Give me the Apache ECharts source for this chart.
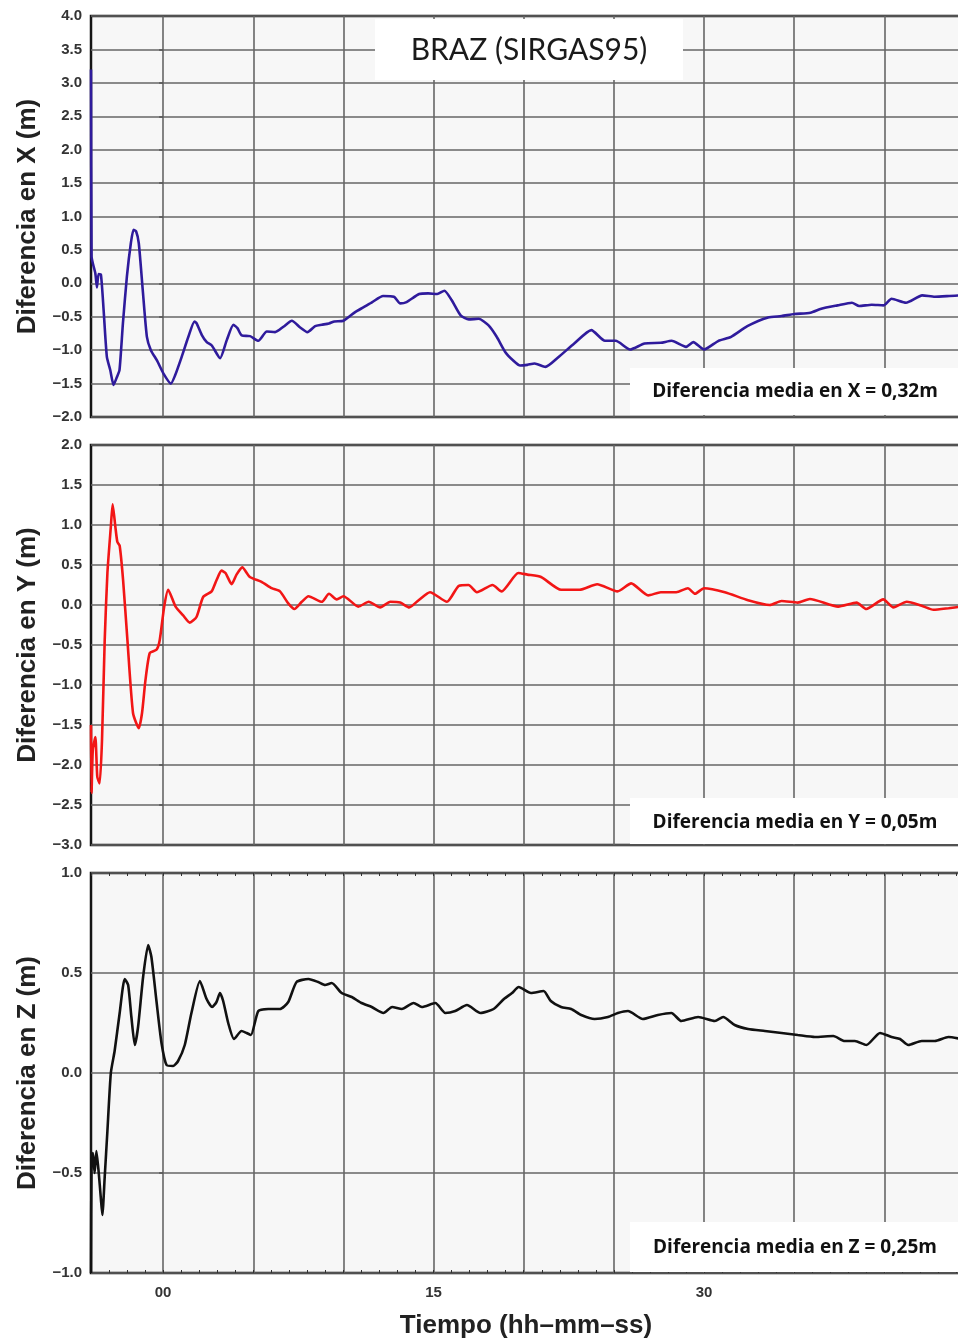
<!DOCTYPE html>
<html>
<head>
<meta charset="utf-8">
<script src="https://cdn.jsdelivr.net/npm/echarts@6/dist/echarts.min.js"></script>
<style>
  html, body { margin: 0; padding: 0; background: #ffffff; }
  #chart { width: 958px; height: 1343px; }
</style>
</head>
<body>
<div id="chart"></div>
<script>
// ---------- DATA ----------
const xTime = [-4.0,-3.97,-3.9,-3.76,-3.67,-3.58,-3.45,-3.3,-3.12,-2.93,-2.75,-2.56,-2.42,-2.23,-2.01,-1.79,-1.64,-1.5,-1.35,-1.13,-0.9,-0.68,-0.35,0.02,0.43,0.66,1.03,1.4,1.74,1.86,2.14,2.42,2.7,3.16,3.53,3.9,4.12,4.36,4.82,5.28,5.75,6.21,6.67,7.14,7.6,8.0,8.43,8.8,9.2,9.5,10.0,10.65,11.1,11.6,12.2,12.8,13.15,13.5,14.2,14.7,15.2,15.6,16.0,16.5,16.95,17.5,18.05,18.5,18.98,19.4,19.8,20.2,20.6,21.2,21.9,22.8,23.75,24.5,25.1,25.9,26.7,27.6,28.2,29.0,29.4,30.0,30.8,31.5,32.4,33.55,34.3,35.0,35.9,36.5,37.4,38.2,38.6,39.3,39.95,40.4,41.2,42.1,42.8,43.6,44.25];
const xDiff = [3.2,0.4,0.3,0.15,-0.06,0.14,0.13,-0.4,-1.1,-1.3,-1.52,-1.4,-1.3,-0.6,0.1,0.6,0.8,0.78,0.6,-0.1,-0.8,-1.0,-1.15,-1.35,-1.5,-1.38,-1.1,-0.8,-0.57,-0.6,-0.77,-0.88,-0.93,-1.12,-0.85,-0.62,-0.67,-0.78,-0.79,-0.86,-0.72,-0.73,-0.65,-0.56,-0.66,-0.73,-0.64,-0.62,-0.6,-0.57,-0.56,-0.43,-0.36,-0.28,-0.19,-0.2,-0.3,-0.28,-0.16,-0.15,-0.16,-0.11,-0.25,-0.48,-0.54,-0.53,-0.63,-0.8,-1.03,-1.15,-1.23,-1.22,-1.2,-1.25,-1.11,-0.9,-0.7,-0.86,-0.86,-0.99,-0.9,-0.89,-0.86,-0.95,-0.88,-0.99,-0.86,-0.8,-0.64,-0.51,-0.49,-0.46,-0.44,-0.38,-0.33,-0.29,-0.34,-0.32,-0.33,-0.23,-0.29,-0.18,-0.2,-0.19,-0.18];

const yTime = [-4.0,-3.97,-3.9,-3.76,-3.65,-3.52,-3.39,-3.24,-3.09,-2.9,-2.8,-2.65,-2.54,-2.41,-2.22,-1.98,-1.67,-1.35,-1.17,-0.98,-0.74,-0.37,-0.19,0.06,0.28,0.69,1.11,1.48,1.85,2.22,2.69,2.96,3.24,3.46,3.8,4.07,4.39,4.81,5.46,6.02,6.48,6.94,7.28,7.69,8.06,8.8,9.2,9.63,10.0,10.83,11.4,12.04,12.6,13.15,13.65,14.17,14.8,15.74,16.4,16.94,17.4,18.27,18.77,19.7,20.2,20.96,22.07,23.1,24.07,25.2,25.96,26.9,27.6,28.46,29.1,29.5,30.0,31.15,32.44,33.65,34.3,35.2,35.87,37.44,38.46,39.0,39.94,40.5,41.24,42.07,42.72,43.56,44.25];
const yDiff = [-1.5,-2.35,-1.81,-1.65,-2.15,-2.23,-1.69,-0.44,0.4,0.98,1.26,0.98,0.79,0.74,0.31,-0.44,-1.35,-1.54,-1.35,-0.94,-0.6,-0.56,-0.44,-0.02,0.19,-0.02,-0.13,-0.22,-0.15,0.1,0.17,0.31,0.43,0.4,0.26,0.38,0.47,0.35,0.29,0.21,0.17,0.02,-0.05,0.04,0.11,0.04,0.14,0.07,0.11,-0.02,0.04,-0.03,0.04,0.03,-0.03,0.06,0.16,0.04,0.24,0.25,0.16,0.25,0.17,0.4,0.38,0.35,0.19,0.19,0.26,0.17,0.27,0.12,0.16,0.16,0.21,0.14,0.21,0.16,0.06,0.0,0.05,0.03,0.075,-0.02,0.03,-0.05,0.07,-0.03,0.04,-0.01,-0.06,-0.04,-0.02];

const zTime = [-4.0,-3.97,-3.89,-3.8,-3.7,-3.57,-3.46,-3.37,-3.24,-3.09,-2.9,-2.69,-2.41,-2.13,-1.94,-1.76,-1.57,-1.39,-1.11,-0.83,-0.65,-0.37,-0.09,0.19,0.56,0.83,1.2,1.57,2.04,2.41,2.72,2.96,3.15,3.33,3.61,3.93,4.35,4.63,4.87,5.28,5.83,6.48,6.94,7.4,8.06,8.6,8.98,9.35,9.9,10.46,11.0,11.57,12.22,12.7,13.24,13.89,14.35,15.1,15.65,16.2,16.85,17.6,18.33,18.9,19.35,19.72,20.4,21.1,21.5,22.07,22.63,23.19,23.93,24.67,25.22,25.78,26.6,27.44,28.19,28.74,29.67,30.6,31.06,31.7,32.44,33.37,34.3,35.2,36.15,37.17,37.8,38.37,39.0,39.76,40.4,40.87,41.33,42.07,42.8,43.55,44.25];
const zDiff = [-1.0,-0.45,-0.4,-0.5,-0.39,-0.5,-0.62,-0.71,-0.52,-0.29,0.0,0.11,0.3,0.47,0.44,0.28,0.14,0.23,0.48,0.64,0.58,0.36,0.15,0.04,0.035,0.06,0.14,0.3,0.46,0.37,0.33,0.355,0.4,0.36,0.25,0.17,0.21,0.2,0.19,0.31,0.32,0.32,0.355,0.455,0.47,0.455,0.44,0.45,0.4,0.38,0.35,0.33,0.3,0.33,0.32,0.35,0.33,0.35,0.3,0.31,0.34,0.3,0.32,0.37,0.4,0.43,0.4,0.41,0.36,0.33,0.32,0.29,0.27,0.28,0.3,0.31,0.27,0.29,0.3,0.26,0.28,0.26,0.28,0.24,0.22,0.21,0.2,0.19,0.18,0.185,0.16,0.16,0.14,0.2,0.18,0.17,0.14,0.16,0.16,0.18,0.17];

const timeGridValues = [0, 5, 10, 15, 20, 25, 30, 35, 40];
const timeLabelValues = [0, 15, 30];
const timeLabelText = { 0: '00', 15: '15', 30: '30' };

const panelNames = ['Diferencia en X (m)', 'Diferencia en Y (m)', 'Diferencia en Z (m)'];
const panelMin = [-2.0, -3.0, -1.0];
const panelMax = [4.0, 2.0, 1.0];
const panelColors = ['#2f1b9c', '#f21616', '#111111'];
const meanTexts = ['Diferencia media en X = 0,32m', 'Diferencia media en Y = 0,05m', 'Diferencia media en Z = 0,25m'];
const titleText = 'BRAZ (SIRGAS95)';
const xAxisTitle = 'Tiempo (hh–mm–ss)';

// ---------- CHART ----------
const T_MIN = -4, T_MAX = 44.25;
const pair = (t, v) => t.map((x, i) => [x, v[i]]);
const seriesData = [pair(xTime, xDiff), pair(yTime, yDiff), pair(zTime, zDiff)];

const grids = [
  { left: 91, top: 16, width: 870, height: 401 },
  { left: 91, top: 445, width: 870, height: 400 },
  { left: 91, top: 873, width: 870, height: 400 }
].map(g => Object.assign(g, {
  show: true, backgroundColor: '#f7f7f7', borderColor: '#151515', borderWidth: 2.5,
  outerBoundsMode: 'none', containLabel: false
}));

const gridLine = { show: true, lineStyle: { color: '#666666', width: 1.6 } };
const fontFam = 'Liberation Sans, Arial, sans-serif';

const xAxes = [];
const yAxes = [];
for (let i = 0; i < 3; i++) {
  const isLast = i === 2;
  xAxes.push({
    type: 'value', gridIndex: i, min: T_MIN, max: T_MAX, position: 'bottom',
    axisLine: { show: false },
    axisTick: { show: false, customValues: timeGridValues },
    splitLine: gridLine,
    axisLabel: isLast ? {
      show: true, customValues: timeLabelValues,
      formatter: v => timeLabelText[Math.round(v)] || '',
      fontFamily: fontFam, fontWeight: 'bold', fontSize: 15, color: '#333', margin: 12
    } : { show: false },
    name: isLast ? xAxisTitle : '',
    nameLocation: 'middle', nameGap: 40,
    nameTextStyle: { fontFamily: fontFam, fontWeight: 'bold', fontSize: 26, color: '#222' }
  });
  yAxes.push({
    type: 'value', gridIndex: i, min: panelMin[i], max: panelMax[i], interval: 0.5,
    axisLine: { show: false },
    axisTick: { show: true, length: 4, lineStyle: { color: '#555', width: 1.5 } },
    splitLine: gridLine,
    axisLabel: {
      formatter: v => (v < 0 ? '−' : '') + Math.abs(v).toFixed(1),
      fontFamily: fontFam, fontWeight: 'bold', fontSize: 15, color: '#333', margin: 9
    },
    name: panelNames[i], nameLocation: 'middle', nameGap: 50,
    nameTextStyle: { fontFamily: fontFam, fontWeight: 'bold', fontSize: 26, color: '#222' }
  });
}
// minor tick marks on Z panel top and bottom borders
['top', 'bottom'].forEach(pos => {
  xAxes.push({
    type: 'value', gridIndex: 2, min: T_MIN, max: T_MAX, interval: 1, position: pos,
    axisLine: { show: false },
    axisTick: { show: true, inside: true, length: 3, lineStyle: { color: '#333', width: 1 } },
    splitLine: { show: false }, axisLabel: { show: false }
  });
});

const series = seriesData.map((d, i) => ({
  type: 'line', xAxisIndex: i, yAxisIndex: i, data: d,
  showSymbol: false, symbol: 'none', smooth: 0.2,
  lineStyle: { color: panelColors[i], width: 2.6 },
  clip: true, silent: true, animation: false, z: 3
}));

const boxes = [
  { x: 630, y: 368, w: 330, h: 47, cy: 392 },
  { x: 630, y: 798, w: 330, h: 46, cy: 823 },
  { x: 630, y: 1222, w: 330, h: 50, cy: 1248 }
];
const graphic = [];
graphic.push({ type: 'rect', z: 50, shape: { x: 375, y: 19, width: 308, height: 61 }, style: { fill: '#ffffff' } });
graphic.push({ type: 'text', z: 51, x: 529, y: 50,
  style: { text: titleText, align: 'center', verticalAlign: 'middle', fill: '#1a1a1a',
    fontFamily: 'Lato, Open Sans, sans-serif', fontSize: 30, fontWeight: 'normal' } });
boxes.forEach((b, i) => {
  graphic.push({ type: 'rect', z: 50, shape: { x: b.x, y: b.y, width: b.w, height: b.h }, style: { fill: '#ffffff' } });
  graphic.push({ type: 'text', z: 51, x: 795, y: b.cy,
    style: { text: meanTexts[i], align: 'center', verticalAlign: 'middle', fill: '#111',
      fontFamily: 'Open Sans, Lato, sans-serif', fontSize: 19, fontWeight: 'bold' } });
});

const chart = echarts.init(document.getElementById('chart'), null, { renderer: 'canvas' });
chart.setOption({
  animation: false,
  backgroundColor: '#ffffff',
  grid: grids,
  xAxis: xAxes,
  yAxis: yAxes,
  series: series,
  graphic: graphic
});
</script>
</body>
</html>
